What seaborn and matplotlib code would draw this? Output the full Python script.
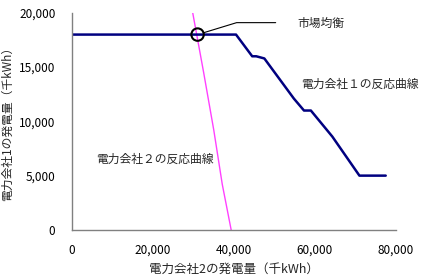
import matplotlib
matplotlib.use('Agg')
import matplotlib.pyplot as plt
import seaborn as sns
from matplotlib.ticker import FuncFormatter

# 電力会社1の反応曲線 (x: 会社2の発電量, y: 会社1の発電量)
firm1_x = [0, 40500, 44500, 45500, 47500, 54800, 57300, 59000, 64300, 71000, 77500]
firm1_y = [18000, 18000, 16000, 16000, 15800, 12100, 11000, 11000, 8600, 5000, 5000]

# 電力会社2の反応曲線
firm2_x = [29800, 32500, 35000, 37100, 39300]
firm2_y = [20000, 14500, 9200, 4200, 0]

# 市場均衡
eq_x = [31000]
eq_y = [18000]

x_ticks = [0, 20000, 40000, 60000, 80000]
y_ticks = [0, 5000, 10000, 15000, 20000]

sns.set_style('white')
plt.rcParams['font.family'] = ['Noto Sans CJK JP', 'DejaVu Sans']

fig = plt.figure(figsize=(4.22, 2.80), dpi=100)
ax = fig.add_axes([0.171, 0.179, 0.767, 0.775])

sns.lineplot(x=firm2_x, y=firm2_y, color='#ff40ff', linewidth=1.0, sort=False, estimator=None, ax=ax)
sns.lineplot(x=firm1_x, y=firm1_y, color='#000080', linewidth=1.8, sort=False, estimator=None, ax=ax)
sns.scatterplot(x=eq_x, y=eq_y, s=80, facecolor='none', edgecolor='black', linewidth=1.5, ax=ax, zorder=5)

ax.annotate('', xy=(eq_x[0], eq_y[0]), xytext=(50300, 19100),
            arrowprops=dict(arrowstyle='-', color='black', lw=0.8, shrinkA=0, shrinkB=5,
                            connectionstyle='angle,angleA=0,angleB=17,rad=0'))
ax.text(55700, 19000, '市場均衡', fontsize=8.5, va='center', ha='left')
ax.text(56500, 13400, '電力会社１の反応曲線', fontsize=8.5, va='center', ha='left', clip_on=False)
ax.text(6000, 6500, '電力会社２の反応曲線', fontsize=8.5, va='center', ha='left')

ax.set_xlim(0, 80000)
ax.set_ylim(0, 20000)
ax.set_xticks(x_ticks)
ax.set_yticks(y_ticks)
fmt = FuncFormatter(lambda v, p: f'{int(v):,}')
ax.xaxis.set_major_formatter(fmt)
ax.yaxis.set_major_formatter(fmt)
ax.tick_params(direction='in', length=3, width=0.8, colors='#808080', labelcolor='black', labelsize=8.5)
ax.tick_params(axis='x', pad=10)
ax.tick_params(axis='y', pad=12)

sns.despine(ax=ax)
for s in ['left', 'bottom']:
    ax.spines[s].set_color('#808080')
    ax.spines[s].set_linewidth(1.0)

ax.set_xlabel('電力会社2の発電量（千kWh）', fontsize=9, labelpad=4)
ax.set_ylabel('電力会社1の発電量（千kWh）', fontsize=8.5, labelpad=4)

fig.savefig('out.png', dpi=100)
